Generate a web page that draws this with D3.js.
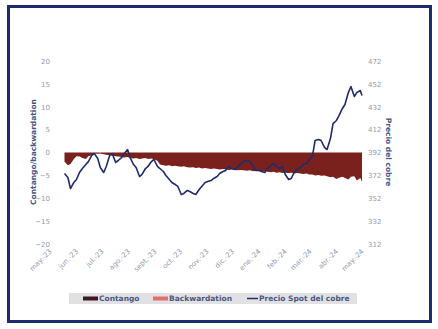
<!DOCTYPE html>
<html>
<head>
<meta charset="utf-8">
<script src="https://cdn.jsdelivr.net/npm/d3@7"></script>
<style>
  body { margin: 0; background: #fff; }
  text { font-family: "DejaVu Sans", Verdana, sans-serif; }
</style>
</head>
<body>
<div id="container"></div>
<script>
"use strict";

// Fechas de observacion (dos por semana).
const dates = [
  "2023-05-18", "2023-05-22", "2023-05-25", "2023-05-29", "2023-06-01", "2023-06-05", "2023-06-08",
  "2023-06-12", "2023-06-15", "2023-06-19", "2023-06-22", "2023-06-26", "2023-06-29", "2023-07-03",
  "2023-07-06", "2023-07-10", "2023-07-13", "2023-07-17", "2023-07-20", "2023-07-24", "2023-07-27",
  "2023-07-31", "2023-08-03", "2023-08-07", "2023-08-10", "2023-08-14", "2023-08-17", "2023-08-21",
  "2023-08-24", "2023-08-28", "2023-08-31", "2023-09-04", "2023-09-07", "2023-09-11", "2023-09-14",
  "2023-09-18", "2023-09-21", "2023-09-25", "2023-09-28", "2023-10-02", "2023-10-05", "2023-10-09",
  "2023-10-12", "2023-10-16", "2023-10-19", "2023-10-23", "2023-10-26", "2023-10-30", "2023-11-02",
  "2023-11-06", "2023-11-09", "2023-11-13", "2023-11-16", "2023-11-20", "2023-11-23", "2023-11-27",
  "2023-11-30", "2023-12-04", "2023-12-07", "2023-12-11", "2023-12-14", "2023-12-18", "2023-12-21",
  "2023-12-26", "2023-12-28", "2024-01-02", "2024-01-04", "2024-01-08", "2024-01-11", "2024-01-15",
  "2024-01-18", "2024-01-22", "2024-01-25", "2024-01-29", "2024-02-01", "2024-02-05", "2024-02-08",
  "2024-02-12", "2024-02-15", "2024-02-19", "2024-02-22", "2024-02-26", "2024-02-29", "2024-03-04",
  "2024-03-07", "2024-03-11", "2024-03-14", "2024-03-18", "2024-03-21", "2024-03-25", "2024-03-28",
  "2024-04-01", "2024-04-04", "2024-04-08", "2024-04-11", "2024-04-15", "2024-04-18", "2024-04-22",
  "2024-04-25", "2024-04-29", "2024-05-01"
];

// Contango (negativo) en el eje izquierdo.
const contango = [
  -2.0, -2.8, -2.5, -1.4, -0.8, -0.9, -1.2,
  -1.4, -0.8, -0.6, -0.3, -0.3, -0.2, -0.4,
  -0.5, -0.6, -0.7, -0.8, -0.9, -1.0, -1.1,
  -1.0, -1.2, -1.3, -1.2, -1.4, -1.3, -1.2,
  -1.4, -1.3, -1.5, -1.8, -2.6, -2.8, -2.9,
  -2.8, -3.0, -2.9, -3.0, -3.1, -3.0, -3.2,
  -3.3, -3.2, -3.4, -3.3, -3.5, -3.4, -3.5,
  -3.6, -3.5, -3.6, -3.7, -3.6, -3.7, -3.8,
  -3.7, -3.8, -3.9, -3.8, -3.9, -4.0, -3.9,
  -4.1, -4.0, -4.1, -4.2, -4.1, -4.2, -4.3,
  -4.2, -4.4, -4.3, -4.5, -4.4, -4.5, -4.4,
  -4.6, -4.5, -4.6, -4.7, -4.6, -4.8, -4.8,
  -5.0, -4.9, -5.1, -5.0, -5.2, -5.4, -5.3,
  -5.8, -5.5, -5.3, -5.6, -5.9, -5.3, -5.2,
  -6.1, -5.6, -6.4
];

// Precio spot del cobre en el eje derecho.
const price = [
  373.6, 370.1, 360.5, 365.8, 368.4, 375.0, 378.0,
  381.5, 384.0, 389.4, 391.0, 386.8, 378.9, 374.5,
  379.8, 389.4, 391.0, 383.3, 385.0, 387.6, 391.0,
  394.6, 387.6, 381.5, 378.9, 371.0, 372.8, 378.0,
  379.8, 384.1, 385.9, 379.8, 378.0, 375.4, 371.9,
  368.4, 365.8, 364.0, 362.3, 355.3, 356.2, 358.8,
  357.9, 356.2, 355.3, 359.7, 362.3, 365.8, 366.6,
  367.5, 369.3, 371.0, 373.6, 375.4, 376.3, 379.8,
  378.0, 377.1, 378.9, 382.4, 384.1, 385.0, 384.1,
  379.8, 376.3, 376.3, 375.4, 374.5, 378.0, 380.6,
  382.4, 379.8, 378.0, 379.8, 372.8, 368.4, 369.3,
  375.4, 377.1, 378.9, 381.5, 382.4, 385.0, 389.4,
  402.5, 403.4, 402.5, 396.4, 394.6, 404.2, 417.3,
  420.0, 424.3, 430.5, 434.0, 444.4, 449.7, 441.0,
  444.4, 446.2, 441.8
];

const monthTicks = [
  "2023-05-01", "2023-06-01", "2023-07-01", "2023-08-01", "2023-09-01", "2023-10-01", "2023-11-01",
  "2023-12-01", "2024-01-01", "2024-02-01", "2024-03-01", "2024-04-01", "2024-05-01"
];
const monthLabels = [
  "may.-23", "jun.-23", "jul.-23", "ago.-23", "sept.-23", "oct.-23", "nov.-23",
  "dic.-23", "ene.-24", "feb.-24", "mar.-24", "abr.-24", "may.-24"
];
const leftTicks = [-20, -15, -10, -5, 0, 5, 10, 15, 20];
const rightTicks = [312, 332, 352, 372, 392, 412, 432, 452, 472];

const legendItems = [
  { label: "Contango", color: "#3e1820", kind: "bar" },
  { label: "Backwardation", color: "#e2706a", kind: "bar" },
  { label: "Precio Spot del cobre", color: "#1d2c6a", kind: "line" }
];

const width = 438;
const height = 329;
const tickColor = "#8f97ad";
const titleColor = "#4b5680";

const svg = d3.select("#container").append("svg").attr("width", width).attr("height", height);

// Marco azul.
svg
  .append("rect")
  .attr("x", 8.5)
  .attr("y", 6.5)
  .attr("width", 422)
  .attr("height", 315)
  .attr("fill", "#fff")
  .attr("stroke", "#1b2b6b")
  .attr("stroke-width", 3);

const parse = d3.timeParse("%Y-%m-%d");
const series = dates.map((d, i) => ({ date: parse(d), contango: contango[i], price: price[i] }));

const x = d3
  .scaleTime()
  .domain([parse(monthTicks[0]), parse(monthTicks[monthTicks.length - 1])])
  .range([50, 362]);
const yLeft = d3.scaleLinear().domain([-20, 20]).range([244, 61]);
const yRight = d3.scaleLinear().domain([312, 472]).range([244, 61]);

// Area de contango.
svg
  .append("path")
  .datum(series)
  .attr("fill", "#7a211d")
  .attr(
    "d",
    d3
      .area()
      .x((d) => x(d.date))
      .y0(yLeft(0))
      .y1((d) => yLeft(d.contango))
  );

// Linea de precio.
svg
  .append("path")
  .datum(series)
  .attr("fill", "none")
  .attr("stroke", "#1d2c6a")
  .attr("stroke-width", 1.6)
  .attr("stroke-linejoin", "round")
  .attr(
    "d",
    d3
      .line()
      .x((d) => x(d.date))
      .y((d) => yRight(d.price))
  );

// Eje izquierdo.
svg
  .append("g")
  .attr("transform", "translate(52,0)")
  .call(d3.axisLeft(yLeft).tickValues(leftTicks).tickSize(0).tickPadding(2))
  .call((g) => g.select(".domain").remove())
  .selectAll("text")
  .style("font-size", "7px")
  .attr("fill", tickColor);

// Eje derecho.
svg
  .append("g")
  .attr("transform", "translate(364,0)")
  .call(d3.axisRight(yRight).tickValues(rightTicks).tickSize(0).tickPadding(4))
  .call((g) => g.select(".domain").remove())
  .selectAll("text")
  .style("font-size", "7px")
  .attr("fill", tickColor);

// Eje de fechas.
svg
  .append("g")
  .attr("transform", "translate(0,250)")
  .call(
    d3
      .axisBottom(x)
      .tickValues(monthTicks.map(parse))
      .tickFormat((d, i) => monthLabels[i])
      .tickSize(0)
  )
  .call((g) => g.select(".domain").remove())
  .selectAll("text")
  .style("font-size", "7px")
  .attr("fill", tickColor)
  .attr("text-anchor", "end")
  .attr("x", 0)
  .attr("y", 0)
  .attr("dy", "0.35em")
  .attr("transform", "rotate(-45)");

// Titulos de ejes.
svg
  .append("text")
  .attr("transform", "translate(33,152) rotate(-90)")
  .attr("text-anchor", "middle")
  .attr("dy", "0.35em")
  .style("font-size", "7.5px")
  .style("font-weight", "bold")
  .attr("fill", titleColor)
  .text("Contango/backwardation");

svg
  .append("text")
  .attr("transform", "translate(389,152) rotate(90)")
  .attr("text-anchor", "middle")
  .attr("dy", "0.35em")
  .style("font-size", "7.5px")
  .style("font-weight", "bold")
  .attr("fill", titleColor)
  .text("Precio del cobre");

// Leyenda.
const legend = svg.append("g");
legend.append("rect").attr("x", 69).attr("y", 293).attr("width", 288).attr("height", 11).attr("fill", "#e1e1e3");

const legendX = [83, 153, 247];
legendItems.forEach((item, i) => {
  const g = legend.append("g").attr("transform", `translate(${legendX[i]},298.5)`);
  if (item.kind === "bar") {
    g.append("rect").attr("x", 0).attr("y", -2).attr("width", 15).attr("height", 4).attr("fill", item.color);
  } else {
    g.append("line").attr("x1", 0).attr("x2", 11).attr("stroke", item.color).attr("stroke-width", 1.5);
  }
  g.append("text")
    .attr("x", item.kind === "bar" ? 16 : 12)
    .attr("dy", "0.35em")
    .style("font-size", "7.5px")
    .style("font-weight", "bold")
    .attr("fill", titleColor)
    .text(item.label);
});
</script>
</body>
</html>
